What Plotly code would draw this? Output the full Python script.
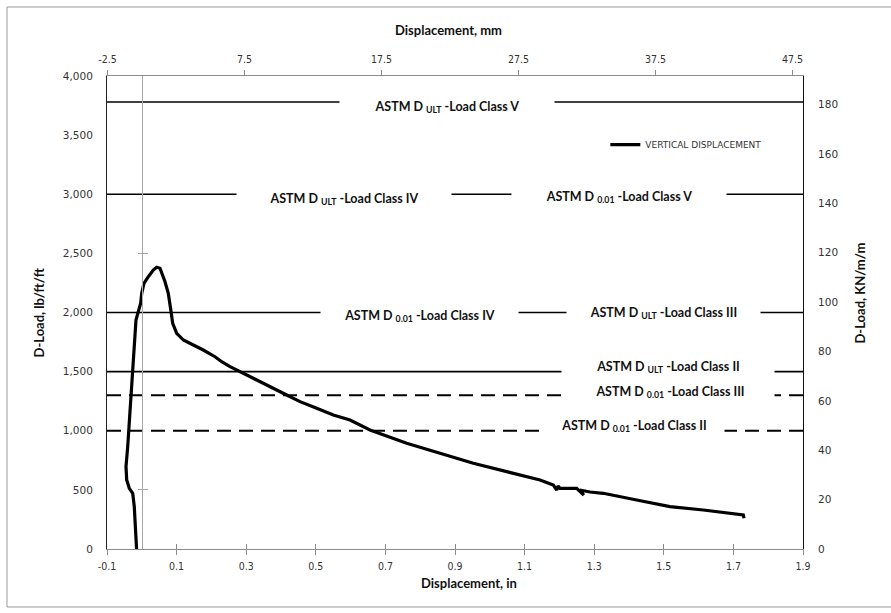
import plotly.graph_objects as go

# Load-displacement record of the test (displacement in inches, D-load in lb/ft/ft)
disp_in = [
    -0.015, -0.0175, -0.0216, -0.0261, -0.0359, -0.0434, -0.0454, -0.0405,
    -0.0368, -0.0339, -0.0319, -0.0290, -0.0244, -0.0216, -0.0204, -0.0167,
    -0.0101, -0.0032, -0.0003, 0.0063, 0.0187, 0.0330, 0.0428, 0.0523,
    0.0667, 0.0761, 0.0825, 0.0888, 0.1003, 0.1193, 0.1480, 0.1767,
    0.2103, 0.2296, 0.2534, 0.2773, 0.3109, 0.3491, 0.3876, 0.4164,
    0.4546, 0.5026, 0.5503, 0.5983, 0.6557, 0.7612, 0.8569, 0.9526,
    1.0486, 1.1443, 1.1825, 1.1923, 1.1960, 1.2017, 1.2305, 1.2497,
    1.2700, 1.2590, 1.2880, 1.3261, 1.4221, 1.5178, 1.6135, 1.7284, 1.7305,
]
load_lbft = [
    0, 133, 358, 471, 513, 584, 696, 865,
    1034, 1203, 1288, 1429, 1542, 1683, 1824, 1937,
    2007, 2078, 2162, 2247, 2303, 2359, 2382, 2374,
    2260, 2162, 2038, 1909, 1824, 1767, 1725, 1683,
    1626, 1584, 1542, 1508, 1457, 1401, 1345, 1302,
    1246, 1190, 1133, 1091, 1006, 894, 809, 725,
    654, 584, 541, 499, 533, 513, 513, 513,
    455, 499, 482, 471, 414, 358, 330, 288, 260,
]

# ASTM reference load levels (lb/ft/ft)
threshold_loads = [3780, 3000, 2000, 1500, 1300, 1000]
threshold_dashed = [False, False, False, False, True, True]

label_texts = [
    "ASTM D <sub>ULT</sub> -Load Class V",
    "ASTM D <sub>ULT</sub> -Load Class IV",
    "ASTM D <sub>0.01</sub> -Load Class V",
    "ASTM D <sub>0.01</sub> -Load Class IV",
    "ASTM D <sub>ULT</sub> -Load Class III",
    "ASTM D <sub>ULT</sub> -Load Class II",
    "ASTM D <sub>0.01</sub> -Load Class III",
    "ASTM D <sub>0.01</sub> -Load Class II",
]

bottom_ticks = [-0.1, 0.1, 0.3, 0.5, 0.7, 0.9, 1.1, 1.3, 1.5, 1.7, 1.9]
top_ticks_mm = [-2.5, 7.5, 17.5, 27.5, 37.5, 47.5]
left_ticks = [0, 500, 1000, 1500, 2000, 2500, 3000, 3500, 4000]
right_ticks = [0, 20, 40, 60, 80, 100, 120, 140, 160, 180]
zero_line_ticks = [500, 2500]

MM_PER_IN = 25.4
KN_PER_LB = 0.04788  # lb/ft/ft -> kN/m/m
X_RANGE = [-0.1, 1.9]
Y_RANGE = [0, 4000]

# label placement: (x in, y lb/ft/ft, cleared width px)
label_place = [
    (0.878, 3735, 212),
    (0.581, 2960, 212),
    (1.371, 2975, 212),
    (0.797, 1972, 195),
    (1.499, 1995, 191),
    (1.512, 1540, 210),
    (1.518, 1328, 206),
    (1.413, 1040, 178),
]

TICK_FONT = dict(family="DejaVu Sans", size=10.5, color="#333333")
XTICK_FONT = dict(family="DejaVu Sans Condensed", size=10.5, color="#333333")
TITLE_FONT = dict(family="Lato", size=13, color="#111111")

fig = go.Figure()

# reference levels
for load, dashed in zip(threshold_loads, threshold_dashed):
    fig.add_trace(go.Scatter(
        x=X_RANGE, y=[load, load], mode="lines",
        line=dict(color="black", width=2.0 if dashed else 1.7,
                  dash="14px,8px" if dashed else "solid"),
        showlegend=False, hoverinfo="skip",
    ))

# measured curve
fig.add_trace(go.Scatter(
    x=disp_in, y=load_lbft, mode="lines", name="VERTICAL DISPLACEMENT",
    line=dict(color="black", width=3.2),
))

# carriers for the secondary axes
for xa, ya in [("x2", "y"), ("x3", "y"), ("x", "y2"), ("x", "y3"), ("x", "y4")]:
    fig.add_trace(go.Scatter(x=[None], y=[None], xaxis=xa, yaxis=ya,
                             showlegend=False, hoverinfo="skip"))

annotations = []
for text, (lx, ly, w) in zip(label_texts, label_place):
    annotations.append(dict(
        x=lx, y=ly, xref="x", yref="y", text="<b>" + text + "</b>",
        showarrow=False, bgcolor="white", width=w, height=18,
        font=dict(family="Lato", size=12.5, color="#111111"),
    ))

annotations += [
    dict(x=0.49, y=1, xref="paper", yref="paper", yshift=46, yanchor="middle",
         text="<b>Displacement, mm</b>", showarrow=False, font=TITLE_FONT),
    dict(x=0.52, y=0, xref="paper", yref="paper", yshift=-34, yanchor="middle",
         text="<b>Displacement, in</b>", showarrow=False, font=TITLE_FONT),
    dict(x=0, y=0.5, xref="paper", yref="paper", xshift=-69, xanchor="center",
         text="<b>D-Load, lb/ft/ft</b>", showarrow=False, textangle=-90, font=TITLE_FONT),
    dict(x=1, y=0.54, xref="paper", yref="paper", xshift=57, xanchor="center",
         text="<b>D-Load, KN/m/m</b>", showarrow=False, textangle=-90, font=TITLE_FONT),
]

zero_pos = (0 - X_RANGE[0]) / (X_RANGE[1] - X_RANGE[0])

fig.update_layout(
    width=891, height=613,
    margin=dict(l=107, r=88, t=76, b=64),
    paper_bgcolor="white", plot_bgcolor="white",
    showlegend=True,
    legend=dict(x=0.716, y=0.855, xanchor="left", yanchor="middle",
                bgcolor="rgba(0,0,0,0)", font=dict(family="DejaVu Sans", size=9, color="#333333"),
                itemwidth=30, tracegroupgap=0),
    xaxis=dict(range=X_RANGE, tickvals=bottom_ticks, ticktext=[f"{v:g}" for v in bottom_ticks],
               showgrid=False, zeroline=False, showline=True, linecolor="#8c8c8c", linewidth=1,
               ticks="outside", ticklen=5, tickcolor="#8c8c8c", tickfont=XTICK_FONT,
               ticklabelstandoff=2),
    xaxis3=dict(range=X_RANGE, overlaying="x", side="bottom", tickvals=bottom_ticks,
                showticklabels=False, showgrid=False, zeroline=False, showline=False,
                ticks="inside", ticklen=5, tickcolor="#8c8c8c"),
    xaxis2=dict(range=[X_RANGE[0] * MM_PER_IN, X_RANGE[1] * MM_PER_IN], overlaying="x", side="top",
                tickvals=top_ticks_mm, ticktext=[f"{v:g}" for v in top_ticks_mm],
                showgrid=False, zeroline=False, showline=True, linecolor="#8c8c8c", linewidth=1,
                ticks="outside", ticklen=5, tickcolor="#8c8c8c", tickfont=XTICK_FONT,
                ticklabelstandoff=3),
    yaxis=dict(range=Y_RANGE, tickvals=left_ticks, ticktext=[f"{v:,}" for v in left_ticks],
               showgrid=False, zeroline=False, showline=True, linecolor="#222222", linewidth=1,
               ticks="", tickfont=TICK_FONT, ticklabelstandoff=11),
    yaxis2=dict(range=[Y_RANGE[0] * KN_PER_LB, Y_RANGE[1] * KN_PER_LB], overlaying="y", side="right",
                tickvals=right_ticks, showgrid=False, zeroline=False, showline=True,
                linecolor="#111111", linewidth=1, ticks="", tickfont=TICK_FONT,
                ticklabelstandoff=12),
    yaxis3=dict(range=Y_RANGE, overlaying="y", anchor="free", position=zero_pos,
                tickvals=zero_line_ticks, showticklabels=False, showgrid=False, zeroline=False,
                showline=True, linecolor="#a6a6a6", linewidth=1,
                ticks="outside", ticklen=4, tickcolor="#a6a6a6"),
    yaxis4=dict(range=Y_RANGE, overlaying="y", anchor="free", position=zero_pos,
                tickvals=zero_line_ticks, showticklabels=False, showgrid=False, zeroline=False,
                showline=False, ticks="inside", ticklen=5, tickcolor="#a6a6a6"),
    annotations=annotations,
    shapes=[dict(type="rect", xref="paper", yref="paper", x0=-0.1437, x1=1.1839, y0=-0.1226, y1=1.1459,
                 line=dict(color="#9a9a9a", width=1), fillcolor="rgba(0,0,0,0)", layer="below")],
)

fig.write_html("out.html")
